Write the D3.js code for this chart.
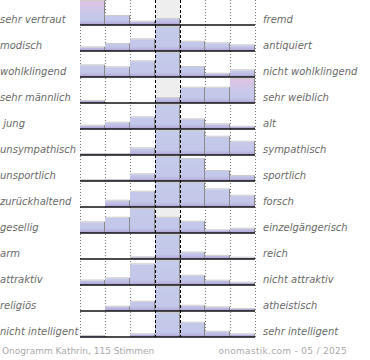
<!DOCTYPE html>
<html><head><meta charset="utf-8">
<script src="https://cdn.jsdelivr.net/npm/d3@7"></script>
<style>html,body{margin:0;padding:0;background:#fff;}svg{display:block;}</style>
</head><body>
<svg id="chart" width="370" height="360"></svg>
<script>
const leftLabels = ["sehr vertraut","modisch","wohlklingend","sehr männlich"," jung","unsympathisch","unsportlich","zurückhaltend","gesellig","arm","attraktiv","religiös","nicht intelligent"];
const rightLabels = ["fremd","antiquiert","nicht wohlklingend","sehr weiblich","alt","sympathisch","sportlich","forsch","einzelgängerisch","reich","nicht attraktiv","atheistisch","sehr intelligent"];
// estimated vote shares (%) per row, 7 bins from left pole to right pole
const r01 = [82, 9, 3.3, 6, 0, 0, 0];
const r02 = [3.7, 7, 11.7, 55, 9.3, 7.7, 5.7];
const r03 = [11.7, 9.7, 15.7, 43, 10, 3.3, 6.7];
const r04 = [2, 0, 0, 5, 15.3, 15.3, 62];
const r05 = [3.3, 6.3, 11.7, 62, 9.7, 4.7, 2.3];
const r06 = [1, 1, 6.7, 32, 28, 18.3, 13.3];
const r07 = [0.8, 1, 6.7, 54, 22, 10, 5];
const r08 = [0, 6.3, 15.3, 26, 24.5, 17.7, 11.3];
const r09 = [10.7, 15.3, 40, 15.3, 11.3, 2.7, 4.3];
const r10 = [0, 0, 1.7, 87, 6.5, 3.2, 1.3];
const r11 = [4.5, 6.7, 20.7, 52, 9.3, 4.3, 2.3];
const r12 = [0, 4.3, 9.3, 75, 5.3, 3.7, 2];
const r13 = [1, 0, 2.7, 73, 14.3, 5.3, 2.7];
const rows = [r01,r02,r03,r04,r05,r06,r07,r08,r09,r10,r11,r12,r13];
const bins = [0,1,2,3,4,5,6];
const footerLeft = "Onogramm Kathrin, 115 Stimmen";
const footerRight = "onomastik.com - 05 / 2025";
const valueCap = 24; // share (%) that fills a full row

const svg = d3.select("#chart");
const rowH = 26, barH = 24, firstLine = 25;
const x = d3.scaleBand().domain(bins).range([80, 255]).padding(0);
const yRow = d3.scaleLinear().domain([0, rows.length - 1]).range([firstLine, firstLine + rowH * (rows.length - 1)]);
const h = d3.scaleLinear().domain([0, valueCap]).range([0, barH]).clamp(true);
const bottom = yRow(rows.length - 1);

const defs = svg.append("defs");
function grad(id, stops){
  const g = defs.append("linearGradient").attr("id", id).attr("gradientUnits","userSpaceOnUse")
    .attr("x1",0).attr("x2",0).attr("y1",0).attr("y2",barH);
  stops.forEach(s => g.append("stop").attr("offset", s[0]).attr("stop-color", s[1]));
}
grad("gMid", [[0,"#c5cbeb"],[0.8,"#c3c7e9"],[0.91,"#bab5df"],[1,"#a899cf"]]);
grad("gExt", [[0,"#dfc3e5"],[0.45,"#cac8e9"],[0.8,"#c3c7e9"],[0.91,"#bab5df"],[1,"#a899cf"]]);

// neutral column background
svg.append("rect").attr("x", x(3)).attr("y", 0).attr("width", x.bandwidth()).attr("height", bottom)
  .attr("fill", "#eeeeee");

// dotted bin boundaries
const dotted = [0,1,2,5,6].map(i => x(i)).concat([x(6) + x.bandwidth()]);
svg.append("g").selectAll("line").data(dotted).join("line")
  .attr("x1", d => d + 0.5).attr("x2", d => d + 0.5).attr("y1", 0).attr("y2", bottom)
  .attr("stroke", "#777").attr("stroke-width", 1).attr("stroke-dasharray", "1,2");

rows.forEach((vals, r) => {
  const base = yRow(r);
  const g = svg.append("g").attr("transform", `translate(0,${base - barH})`);
  const cls = g.selectAll("g.bar").data(vals.map((v, i) => ({v, i}))).join("g");
  cls.filter(d => h(d.v) > 0.3).append("rect")
    .attr("x", d => x(d.i)).attr("width", x.bandwidth())
    .attr("y", d => barH - h(d.v)).attr("height", d => h(d.v))
    .attr("fill", d => (d.i === 0 || d.i === 6) ? "url(#gExt)" : "url(#gMid)");
  cls.filter(d => h(d.v) > 0.3).append("path")
    .attr("d", d => `M${x(d.i)},${barH - h(d.v) - 0.5}H${x(d.i) + x.bandwidth() - 0.5}`)
    .attr("stroke", "#cccccc").attr("fill", "none");
  cls.filter(d => h(d.v) > 0.3).append("path")
    .attr("d", d => `M${x(d.i) + x.bandwidth() - 0.5},${barH - h(d.v) - 0.5}V${barH}`)
    .attr("stroke", "#8a8a8a").attr("fill", "none");
  svg.append("line").attr("x1", 80).attr("x2", 255).attr("y1", base).attr("y2", base)
    .attr("stroke", "#111").attr("stroke-width", 1.6);
  svg.append("text").attr("x", 0).attr("y", base - 2).text(leftLabels[r])
    .attr("font-family", "DejaVu Sans").attr("font-style", "italic").attr("font-size", 10)
    .attr("fill", "#6a6a6a").style("white-space", "pre");
  svg.append("text").attr("x", 263).attr("y", base - 2).text(rightLabels[r])
    .attr("font-family", "DejaVu Sans").attr("font-style", "italic").attr("font-size", 10)
    .attr("fill", "#6a6a6a");
});

// dashed neutral column boundaries
svg.append("g").selectAll("line").data([x(3), x(4)]).join("line")
  .attr("x1", d => d + 0.5).attr("x2", d => d + 0.5).attr("y1", 0).attr("y2", bottom)
  .attr("stroke", "#000").attr("stroke-width", 1).attr("stroke-dasharray", "3,2");

svg.append("text").attr("x", 2).attr("y", 354).text(footerLeft)
  .attr("font-family", "DejaVu Sans").attr("font-size", 9).attr("fill", "#aaaaaa");
svg.append("text").attr("x", 347).attr("y", 354).attr("text-anchor", "end").text(footerRight)
  .attr("font-family", "DejaVu Sans").attr("font-size", 9).attr("letter-spacing", 0.3).attr("fill", "#aaaaaa");
</script>
</body></html>
